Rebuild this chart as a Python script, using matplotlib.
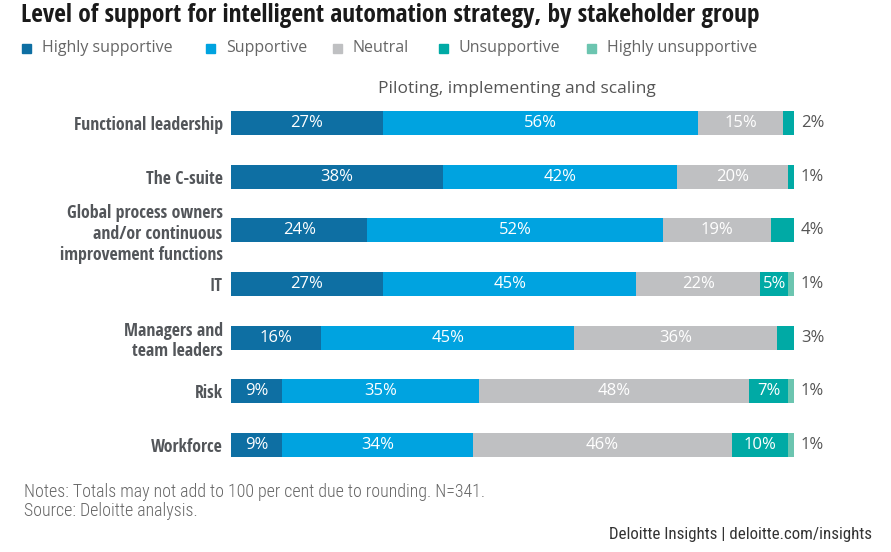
import matplotlib.pyplot as plt
from matplotlib import font_manager

# pick condensed faces that are actually installed
faces = {}
for f in font_manager.fontManager.ttflist:
    w = f.weight if isinstance(f.weight, int) else font_manager.weight_dict.get(f.weight, 400)
    if f.style == "normal":
        faces.setdefault(f.name, set()).add(w)


def pick(cands, lo, hi, default):
    for c in cands:
        if any(lo <= w <= hi for w in faces.get(c, ())):
            return c
    return default


condensed = ["Open Sans Condensed", "Roboto Condensed", "PT Sans Narrow", "Fira Sans Condensed",
             "IBM Plex Sans Condensed", "Archivo Narrow", "Encode Sans Condensed",
             "Asap Condensed", "Liberation Sans Narrow"]
bold_font = pick(condensed, 600, 800, "Roboto")
light_font = pick(condensed, 250, 400, "Roboto")

plt.rcParams['font.family'] = ['Open Sans', 'DejaVu Sans']

groups = ["Functional leadership", "The C-suite",
          "Global process owners\nand/or continuous\nimprovement functions",
          "IT", "Managers and\nteam leaders", "Risk", "Workforce"]
series = ["Highly supportive", "Supportive", "Neutral", "Unsupportive", "Highly unsupportive"]
highly_supportive = [27, 38, 24, 27, 16, 9, 9]
supportive = [56, 42, 52, 45, 45, 35, 34]
neutral = [15, 20, 19, 22, 36, 48, 46]
unsupportive = [2, 1, 4, 5, 3, 7, 10]
highly_unsupportive = [0, 0, 0, 1, 0, 1, 1]
colors = ["#0e6fa3", "#00a3e0", "#bfc0c2", "#00aaa5", "#6cc5b0"]

data = [highly_supportive, supportive, neutral, unsupportive, highly_unsupportive]

fig = plt.figure(figsize=(8.91, 5.52), dpi=100)
ax = fig.add_axes([231 / 891, 0.1453, (794 - 231) / 891, 0.6804])

totals = [sum(col) for col in zip(*data)]
left = [0.0] * len(groups)
for k, vals in enumerate(data):
    widths = [v / t * 100 for v, t in zip(vals, totals)]
    ax.barh(range(len(groups)), widths, left=left, height=0.45,
            color=colors[k], edgecolor="none")
    for i, (v, w) in enumerate(zip(vals, widths)):
        if v >= 5:
            ax.text(left[i] + w / 2, i, f"{v}%", ha="center", va="center",
                    color="white", fontsize=12)
    left = [l + w for l, w in zip(left, widths)]

# label of the last non-zero segment, outside the bar
for i in range(len(groups)):
    last = [d[i] for d in data if d[i] > 0][-1]
    ax.text(101.2, i, f"{last}%", ha="left", va="center", color="#555555", fontsize=12)

ax.set_xlim(0, 100)
ax.set_ylim(len(groups) - 0.5, -0.5)
ax.set_yticks(range(len(groups)))
ax.set_yticklabels(groups, fontsize=12.8, fontweight="bold", color="#53565a",
                   family=[bold_font, "DejaVu Sans"], linespacing=1.2)
ax.tick_params(axis="y", length=0, pad=6)
ax.set_xticks([])
for s in ax.spines.values():
    s.set_visible(False)

ax.text(50.8, -0.63, "Piloting, implementing and scaling", ha="center", va="center",
        fontsize=12.5, color="#555555")

fig.text(21 / 891, 1 - 15 / 552, "Level of support for intelligent automation strategy, by stakeholder group",
         ha="left", va="center", fontsize=18.3, fontweight="bold", color="#1a1a1a",
         family=[bold_font, "DejaVu Sans"])

leg_x = [22, 206, 333, 439, 587]
for x, name, c in zip(leg_x, series, colors):
    fig.patches.append(plt.Rectangle((x / 891, 1 - 53 / 552), 9 / 891, 9 / 552,
                                     transform=fig.transFigure, color=c))
    fig.text((x + 20) / 891, 1 - 48 / 552, name, ha="left", va="center",
             fontsize=11.5, color="#666666")

fig.text(24 / 891, 1 - 492 / 552, "Notes: Totals may not add to 100 per cent due to rounding. N=341.",
         ha="left", va="center", fontsize=12.9, color="#666666", family=[light_font, "DejaVu Sans"],
         fontweight="light")
fig.text(24 / 891, 1 - 511 / 552, "Source: Deloitte analysis.",
         ha="left", va="center", fontsize=12.9, color="#666666", family=[light_font, "DejaVu Sans"],
         fontweight="light")
fig.text(872 / 891, 1 - 535 / 552, "Deloitte Insights | deloitte.com/insights",
         ha="right", va="center", fontsize=12.2, color="#333333", family=[light_font, "DejaVu Sans"])

fig.savefig("out.png", dpi=100)
